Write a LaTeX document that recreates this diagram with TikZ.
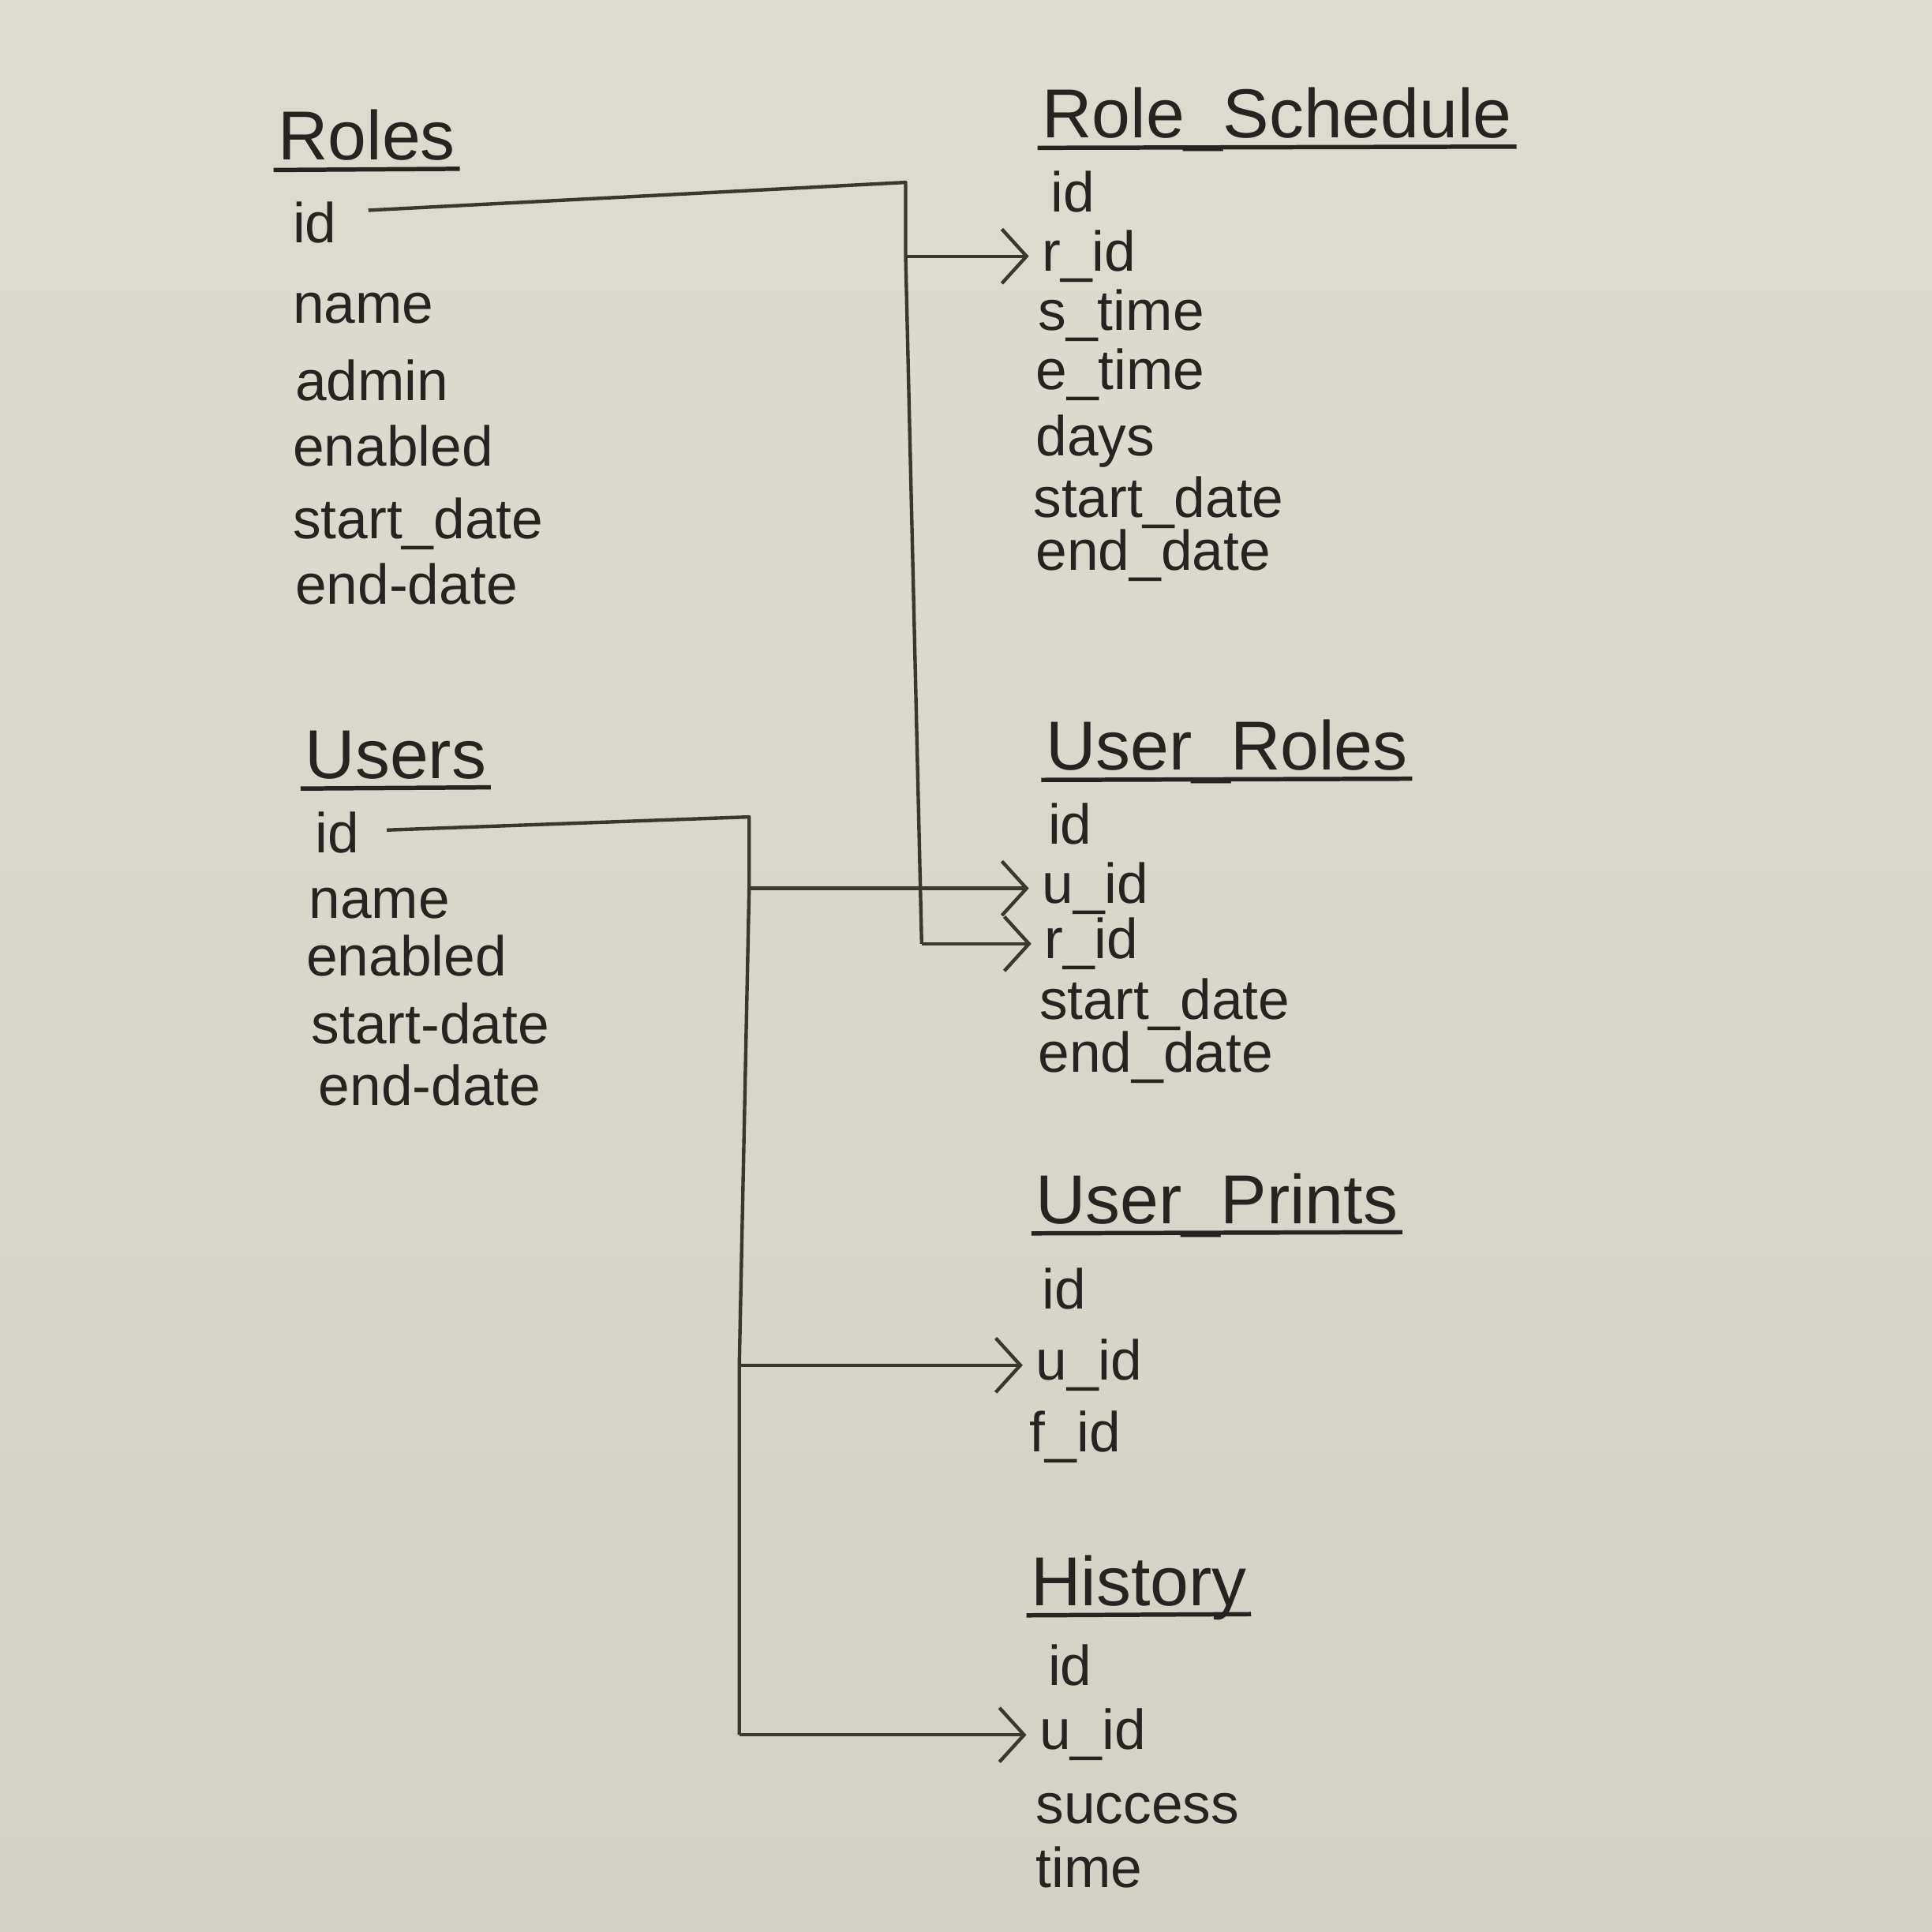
\documentclass[tikz,border=0pt]{standalone}
\usepackage{fontspec}
\setmainfont{Liberation Sans}
\usetikzlibrary{arrows.meta,calc}
\definecolor{board}{RGB}{222,220,209}
\definecolor{boardlow}{RGB}{212,210,199}
\definecolor{ink}{RGB}{38,36,32}
\definecolor{pen}{RGB}{58,55,49}
\tikzset{
	tabtitle/.style={anchor=base west, inner sep=0pt, text=ink, font=\fontsize{16}{16}\selectfont},
	field/.style={anchor=base west, inner sep=0pt, text=ink, font=\fontsize{13}{13}\selectfont},
	uline/.style={draw=ink, line width=1pt},
	link/.style={draw=pen, line width=0.8pt, line join=round},
	fk/.style={link, -{Straight Barb[length=2mm,width=4.4mm]}, shorten >=1mm}
}
\begin{document}
\begin{tikzpicture}
	\shade[top color=board, bottom color=boardlow] (0,0) rectangle (15.68,-15.68);
	\useasboundingbox (0,0) rectangle (15.68,-15.68);

	% Roles
	\node[tabtitle] (roles) at (2.25,-1.30) {Roles};
	\node[field] (roles-id) at (2.37,-1.97) {id};
	\node[field] (roles-name) at (2.37,-2.62) {name};
	\node[field] (roles-admin) at (2.39,-3.25) {admin};
	\node[field] (roles-enabled) at (2.37,-3.78) {enabled};
	\node[field] (roles-start) at (2.37,-4.37) {start\_date};
	\node[field] (roles-end) at (2.39,-4.90) {end-date};

	% Role_Schedule
	\node[tabtitle] (rs) at (8.45,-1.12) {Role\_Schedule};
	\node[field] (rs-id) at (8.52,-1.72) {id};
	\node[field] (rs-rid) at (8.45,-2.20) {r\_id};
	\node[field] (rs-stime) at (8.42,-2.68) {s\_time};
	\node[field] (rs-etime) at (8.40,-3.16) {e\_time};
	\node[field] (rs-days) at (8.40,-3.70) {days};
	\node[field] (rs-start) at (8.38,-4.20) {start\_date};
	\node[field] (rs-end) at (8.40,-4.63) {end\_date};

	% Users
	\node[tabtitle] (users) at (2.47,-6.32) {Users};
	\node[field] (users-id) at (2.55,-6.92) {id};
	\node[field] (users-name) at (2.50,-7.45) {name};
	\node[field] (users-enabled) at (2.48,-7.92) {enabled};
	\node[field] (users-start) at (2.52,-8.47) {start-date};
	\node[field] (users-end) at (2.58,-8.97) {end-date};

	% User_Roles
	\node[tabtitle] (ur) at (8.48,-6.25) {User\_Roles};
	\node[field] (ur-id) at (8.50,-6.85) {id};
	\node[field] (ur-uid) at (8.45,-7.33) {u\_id};
	\node[field] (ur-rid) at (8.47,-7.78) {r\_id};
	\node[field] (ur-start) at (8.43,-8.27) {start\_date};
	\node[field] (ur-end) at (8.42,-8.70) {end\_date};

	% User_Prints
	\node[tabtitle] (up) at (8.40,-9.93) {User\_Prints};
	\node[field] (up-id) at (8.45,-10.62) {id};
	\node[field] (up-uid) at (8.40,-11.20) {u\_id};
	\node[field] (up-fid) at (8.35,-11.78) {f\_id};

	% History
	\node[tabtitle] (hist) at (8.36,-13.03) {History};
	\node[field] (hist-id) at (8.50,-13.68) {id};
	\node[field] (hist-uid) at (8.43,-14.20) {u\_id};
	\node[field] (hist-success) at (8.40,-14.80) {success};
	\node[field] (hist-time) at (8.40,-15.32) {time};

	% underlines
	\foreach \t in {roles,rs,users,ur,up,hist}
		\draw[uline] ($(\t.base west)+(-0.03,-0.08)$) -- ($(\t.base east)+(0.03,-0.07)$);

	% Roles.id -> Role_Schedule.r_id, User_Roles.r_id
	\coordinate (rmid) at (6.40,-1.53);
	\coordinate (rtop) at (7.35,-1.48);
	\coordinate (rlow) at (7.48,-1.48);
	\coordinate (rbranch) at (rs-rid.west -| rtop);
	\coordinate (rfoot) at (ur-rid.west -| rlow);
	\draw[link] ($(roles-id.east)+(0.25,0.1)$) -- (rmid) -- (rtop) -- (rbranch) -- (rfoot);
	\draw[fk] (rfoot) -- (ur-rid.west);
	\draw[fk] (rbranch) -- (rs-rid.west);

	% Users.id -> User_Roles.u_id, User_Prints.u_id, History.u_id
	\coordinate (utop) at (6.08,-6.63);
	\coordinate (ulow) at (6.00,-6.63);
	\coordinate (ubranch) at (ur-uid.west -| utop);
	\coordinate (upbranch) at (up-uid.west -| ulow);
	\coordinate (ufoot) at (hist-uid.west -| ulow);
	\draw[link] ($(users-id.east)+(0.22,0.02)$) -- (utop) -- (ubranch) -- (upbranch) -- (ufoot);
	\draw[fk] (ubranch) -- (ur-uid.west);
	\draw[fk] (upbranch) -- (up-uid.west);
	\draw[fk] (ufoot) -- (hist-uid.west);
	%\draw[link] (ufoot) -- (15,-14);
\end{tikzpicture}
\end{document}
